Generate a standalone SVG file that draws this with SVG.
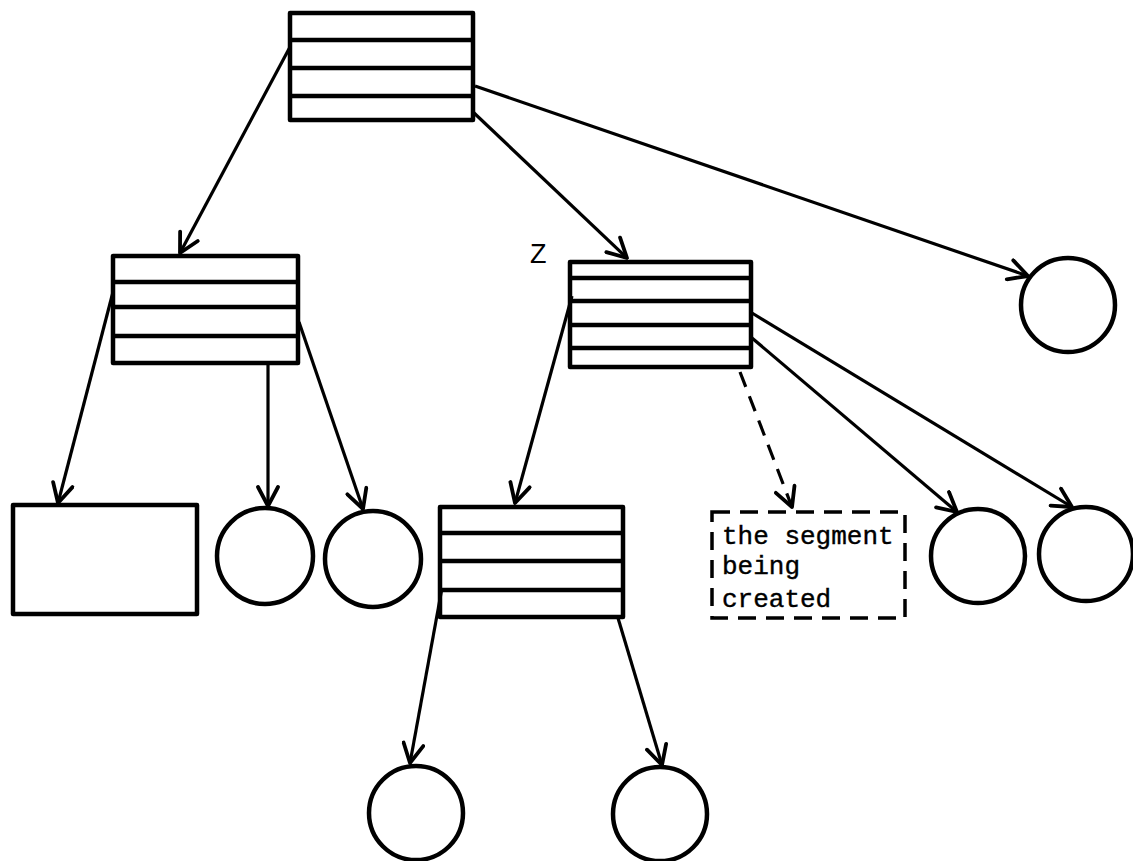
<svg xmlns="http://www.w3.org/2000/svg" width="1133" height="861" viewBox="0 0 1133 861">
<style>
.box{fill:none;stroke:#000;stroke-width:4.5;stroke-linejoin:round}
.row{stroke:#000;stroke-width:4.5}
.circ{fill:none;stroke:#000;stroke-width:4.5}
.edge{fill:none;stroke:#000;stroke-width:3.2}
.dash{stroke-dasharray:16 10}
.dbox{fill:none;stroke:#000;stroke-width:3.5;stroke-dasharray:18 10}
.txt{font-family:"Liberation Mono","DejaVu Sans Mono",monospace;font-size:26px;fill:#000;stroke:#000;stroke-width:0.4}
.lbl{font-family:"Liberation Sans",Arial,sans-serif;font-size:27px;fill:#000}
</style>
<defs>
<marker id="arr" viewBox="-24 -12 26 24" refX="0" refY="0" markerWidth="26" markerHeight="24" markerUnits="userSpaceOnUse" orient="auto">
<path d="M-19,-10 L0,0 L-19,10" fill="none" stroke="#000" stroke-width="3.8" stroke-linecap="round" stroke-linejoin="round"/>
</marker>
</defs>
<rect width="1133" height="861" fill="#fff"/>
<g id="connectors">
<line class="edge" x1="290" y1="47" x2="180" y2="253" marker-end="url(#arr)"/>
<line class="edge" x1="473" y1="112" x2="627" y2="258" marker-end="url(#arr)"/>
<line class="edge" x1="475" y1="86" x2="1028" y2="276" marker-end="url(#arr)"/>
<line class="edge" x1="113" y1="292" x2="58" y2="503" marker-end="url(#arr)"/>
<line class="edge" x1="268" y1="364" x2="268" y2="506" marker-end="url(#arr)"/>
<line class="edge" x1="299" y1="322" x2="363" y2="509" marker-end="url(#arr)"/>
<line class="edge" x1="572" y1="296" x2="515" y2="503" marker-end="url(#arr)"/>
<line class="edge dash" x1="740" y1="372" x2="792" y2="507" marker-end="url(#arr)"/>
<line class="edge" x1="752" y1="338" x2="957" y2="512" marker-end="url(#arr)"/>
<line class="edge" x1="752" y1="313" x2="1072" y2="507" marker-end="url(#arr)"/>
<line class="edge" x1="442" y1="588" x2="410" y2="763" marker-end="url(#arr)"/>
<line class="edge" x1="618" y1="618" x2="662" y2="765" marker-end="url(#arr)"/>
</g>
<g id="root">
<rect class="box" x="290" y="13" width="183" height="107"/>
<line class="row" x1="290" y1="40" x2="473" y2="40"/>
<line class="row" x1="290" y1="68" x2="473" y2="68"/>
<line class="row" x1="290" y1="96" x2="473" y2="96"/>
</g>
<g id="left-node">
<rect class="box" x="113" y="256" width="185" height="107"/>
<line class="row" x1="113" y1="282" x2="298" y2="282"/>
<line class="row" x1="113" y1="307" x2="298" y2="307"/>
<line class="row" x1="113" y1="336" x2="298" y2="336"/>
</g>
<g id="z-node">
<text class="lbl" x="530" y="263">Z</text>
<rect class="box" x="570" y="262" width="181" height="105"/>
<line class="row" x1="570" y1="278" x2="751" y2="278"/>
<line class="row" x1="570" y1="301" x2="751" y2="301"/>
<line class="row" x1="570" y1="325" x2="751" y2="325"/>
<line class="row" x1="570" y1="348" x2="751" y2="348"/>
</g>
<g id="right-leaf">
<circle class="circ" cx="1068" cy="305" r="47"/>
</g>
<g id="leaf-rect">
<rect class="box" x="13" y="505" width="184" height="109"/>
</g>
<g id="leaf-c1">
<circle class="circ" cx="265" cy="556" r="48"/>
</g>
<g id="leaf-c2">
<circle class="circ" cx="373" cy="559" r="48"/>
</g>
<g id="mid-node">
<rect class="box" x="440" y="507" width="183" height="110"/>
<line class="row" x1="440" y1="533" x2="623" y2="533"/>
<line class="row" x1="440" y1="561" x2="623" y2="561"/>
<line class="row" x1="440" y1="590" x2="623" y2="590"/>
</g>
<g id="segment">
<rect class="dbox" x="712" y="512" width="193" height="106"/>
<text class="txt" x="722" y="544">the segment</text>
<text class="txt" x="722" y="574">being</text>
<text class="txt" x="722" y="607">created</text>
</g>
<g id="leaf-c3">
<circle class="circ" cx="978" cy="556" r="47"/>
</g>
<g id="leaf-c4">
<circle class="circ" cx="1086" cy="554" r="47"/>
</g>
<g id="leaf-c5">
<circle class="circ" cx="416" cy="813" r="47"/>
</g>
<g id="leaf-c6">
<circle class="circ" cx="660" cy="814" r="47"/>
</g>
</svg>
